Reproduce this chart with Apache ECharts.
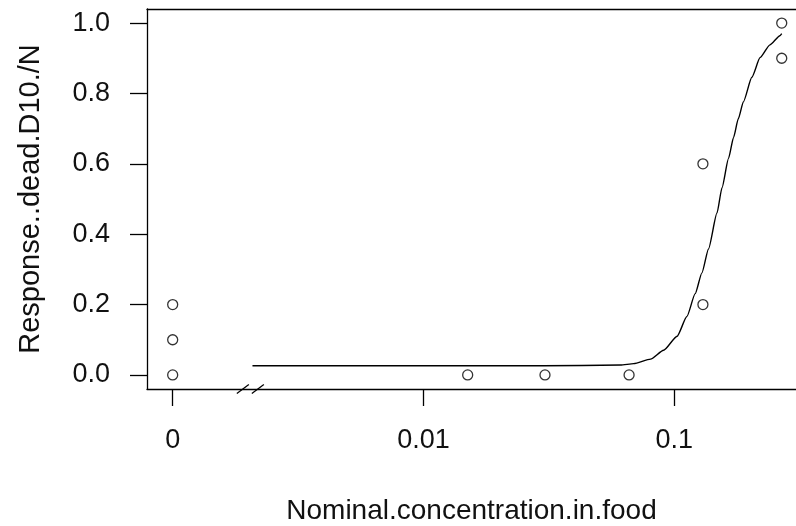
<!DOCTYPE html>
<html>
<head>
<meta charset="utf-8">
<script src="https://cdn.jsdelivr.net/npm/echarts@6/dist/echarts.min.js"></script>
<style>
  html, body { margin: 0; padding: 0; background: #fff; }
  #chart { width: 796px; height: 526px; }
</style>
</head>
<body>
<div id="chart"></div>
<script>
// observed data (dose 0 is drawn at zeroPos on the log axis)
var doseObs = [0, 0, 0, 0.015, 0.0305, 0.066, 0.13, 0.13, 0.268, 0.268];
var respObs = [0, 0.1, 0.2, 0, 0, 0, 0.6, 0.2, 1.0, 0.9];

// fitted curve
var curveDose = [0.00208, 0.005, 0.01, 0.03, 0.061, 0.0689, 0.0804, 0.0906, 0.1026, 0.1122,
                 0.1211, 0.1288, 0.1368, 0.1479, 0.1549, 0.1644, 0.1722, 0.1799, 0.1884,
                 0.2037, 0.2198, 0.2404, 0.2636, 0.268];
var curveResp = [0.026, 0.026, 0.026, 0.026, 0.028, 0.032, 0.045, 0.07, 0.11, 0.166,
                 0.231, 0.29, 0.358, 0.46, 0.532, 0.615, 0.675, 0.728, 0.776,
                 0.846, 0.902, 0.938, 0.964, 0.97];

var xTicks = [0.001, 0.01, 0.1];
var yTicks = [0, 0.2, 0.4, 0.6, 0.8, 1.0];
var zeroPos = 0.001;
var breakDose = 0.00204;

var font = 'Liberation Sans, Arial, sans-serif';
var txt = '#111';
var xMin = 0.00079, xMax = 0.3055;

var pts = doseObs.map(function (d, i) {
    return [d === 0 ? zeroPos : d, respObs[i]];
});
var curve = curveDose.map(function (d, i) {
    return [d, curveResp[i]];
});

var myChart = echarts.init(document.getElementById('chart'), null, { renderer: 'canvas' });

myChart.setOption({
    animation: false,
    backgroundColor: '#fff',
    grid: {
        left: 147,
        top: 9,
        bottom: 137,
        right: 0,
        show: false,
        containLabel: false,
        outerBoundsMode: 'none'
    },
    xAxis: [{
        type: 'log',
        logBase: 10,
        min: xMin,
        max: xMax,
        position: 'bottom',
        name: 'Nominal.concentration.in.food',
        nameLocation: 'middle',
        nameGap: 108,
        nameTextStyle: { fontFamily: font, fontSize: 28, color: txt },
        splitLine: { show: false },
        axisLine: { show: true, onZero: false, lineStyle: { color: '#000', width: 1.3 } },
        axisTick: { show: true, length: 17, customValues: xTicks, lineStyle: { color: '#000', width: 1.3 } },
        axisLabel: {
            customValues: xTicks,
            margin: 38,
            fontFamily: font,
            fontSize: 27,
            color: txt,
            formatter: function (v) {
                if (Math.abs(v - zeroPos) < 1e-9) return '0';
                return String(Number(v.toPrecision(3)));
            }
        }
    }, {
        // top edge of the box
        type: 'log',
        logBase: 10,
        min: xMin,
        max: xMax,
        position: 'top',
        splitLine: { show: false },
        axisLine: { show: true, onZero: false, lineStyle: { color: '#000', width: 1.3 } },
        axisTick: { show: false },
        axisLabel: { show: false }
    }],
    yAxis: {
        type: 'value',
        min: -0.04,
        max: 1.04,
        name: 'Response..dead.D10./N',
        nameLocation: 'middle',
        nameGap: 102,
        nameRotate: 90,
        nameTextStyle: { fontFamily: font, fontSize: 29, color: txt },
        splitLine: { show: false },
        axisLine: { show: true, onZero: false, lineStyle: { color: '#000', width: 1.3 } },
        axisTick: { show: true, length: 17, customValues: yTicks, lineStyle: { color: '#000', width: 1.3 } },
        axisLabel: {
            customValues: yTicks,
            margin: 37,
            fontFamily: font,
            fontSize: 27,
            color: txt,
            formatter: function (v) { return v.toFixed(1); }
        }
    },
    series: [{
        name: 'curve',
        type: 'line',
        data: curve,
        smooth: 0.2,
        smoothMonotone: 'x',
        showSymbol: false,
        symbol: 'none',
        lineStyle: { color: '#000', width: 1.4 },
        z: 2
    }, {
        name: 'obs',
        type: 'scatter',
        data: pts,
        symbol: 'circle',
        symbolSize: 10,
        itemStyle: { color: '#fff', borderColor: '#000', borderWidth: 1.3 },
        z: 3
    }]
});

// axis break marks "//" at the break position
var bp = myChart.convertToPixel({ gridIndex: 0 }, [breakDose, -0.04]);
var slash = function (cx) {
    return {
        type: 'line',
        shape: { x1: cx - 6, y1: bp[1] + 4.5, x2: cx + 6, y2: bp[1] - 4.5 },
        style: { stroke: '#000', lineWidth: 1.3 }
    };
};
myChart.setOption({
    graphic: [
        { type: 'rect', shape: { x: bp[0] - 8, y: bp[1] - 2, width: 16, height: 4 }, style: { fill: '#fff' } },
        slash(bp[0] - 7.5),
        slash(bp[0] + 7.5)
    ]
});
</script>
</body>
</html>
